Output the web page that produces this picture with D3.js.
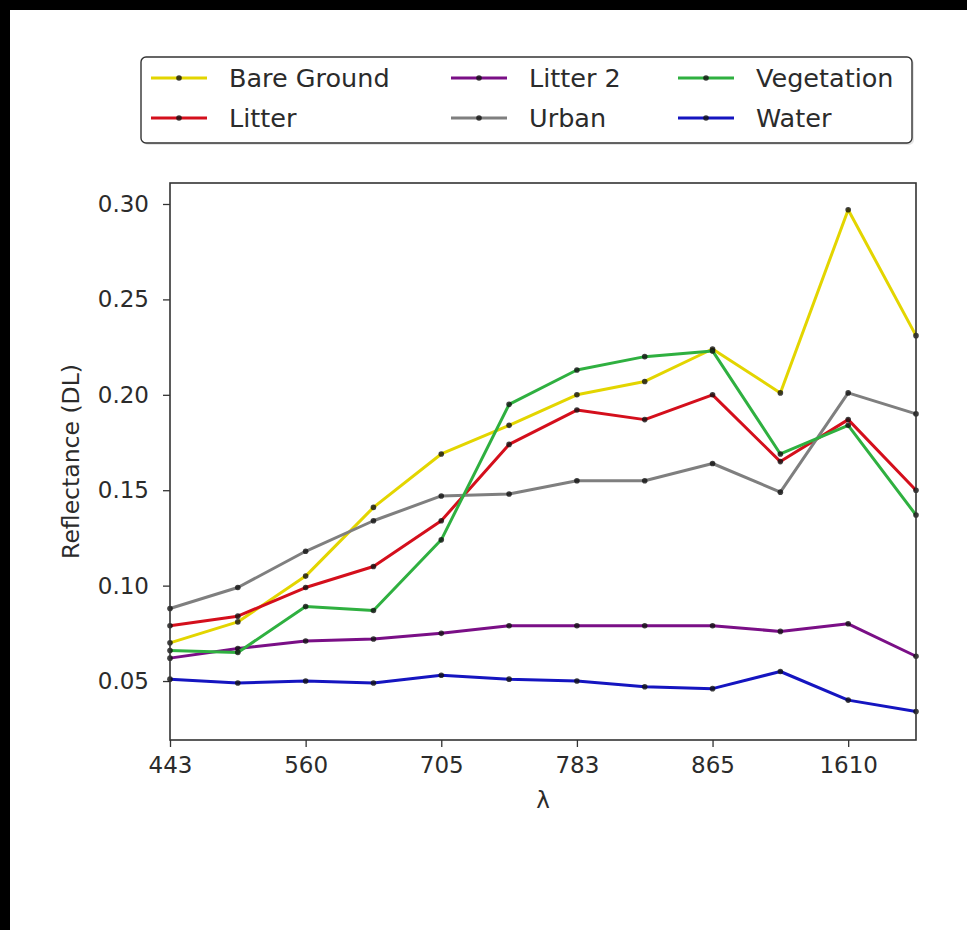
<!DOCTYPE html>
<html>
<head>
<meta charset="utf-8">
<script src="https://cdn.jsdelivr.net/npm/d3@7"></script>
<style>
  body { margin: 0; background: #000; }
  svg { display: block; }
  text { font-family: 'DejaVu Sans', sans-serif; fill: #2b2b2b; }
  .tick text { font-size: 23px; }
  .tick line { stroke: #333; stroke-width: 1.3; }
  .domain { display: none; }
</style>
</head>
<body>
<div id="chart"></div>
<script>
// band centres (nm), one entry per measured point
const bands = ['443', '490', '560', '665', '705', '740', '783', '842', '865', '945', '1610', '2190'];
const shownTicks = ['443', '560', '705', '783', '865', '1610'];
const yTicks = [0.05, 0.10, 0.15, 0.20, 0.25, 0.30];

const bareGround = [0.070, 0.081, 0.105, 0.141, 0.169, 0.184, 0.200, 0.207, 0.224, 0.201, 0.297, 0.231];
const litter     = [0.079, 0.084, 0.099, 0.110, 0.134, 0.174, 0.192, 0.187, 0.200, 0.165, 0.187, 0.150];
const litter2    = [0.062, 0.067, 0.071, 0.072, 0.075, 0.079, 0.079, 0.079, 0.079, 0.076, 0.080, 0.063];
const urban      = [0.088, 0.099, 0.118, 0.134, 0.147, 0.148, 0.155, 0.155, 0.164, 0.149, 0.201, 0.190];
const vegetation = [0.066, 0.065, 0.089, 0.087, 0.124, 0.195, 0.213, 0.220, 0.223, 0.169, 0.184, 0.137];
const water      = [0.051, 0.049, 0.050, 0.049, 0.053, 0.051, 0.050, 0.047, 0.046, 0.055, 0.040, 0.034];

const seriesNames = ['Bare Ground', 'Litter', 'Litter 2', 'Urban', 'Vegetation', 'Water'];
const seriesValues = [bareGround, litter, litter2, urban, vegetation, water];
const seriesColors = ['#e3d500', '#d40f1c', '#7a0f86', '#7f7f7f', '#2fb040', '#1515c0'];

const width = 967, height = 930;
const margin = {top: 183, right: 51, bottom: 190, left: 170};
const innerW = width - margin.left - margin.right;
const innerH = height - margin.top - margin.bottom;

const svg = d3.select('#chart').append('svg')
    .attr('width', width)
    .attr('height', height);

// white figure area inside the dark frame
svg.append('rect')
    .attr('x', 10).attr('y', 10)
    .attr('width', width - 10).attr('height', height - 10)
    .attr('fill', '#fff');

const g = svg.append('g')
    .attr('transform', `translate(${margin.left},${margin.top})`);

const x = d3.scalePoint()
    .domain(bands)
    .range([0, innerW]);

const y = d3.scaleLinear()
    .domain([0.0191, 0.311])
    .range([innerH, 0]);

// axes
g.append('g')
    .attr('transform', `translate(0,${innerH})`)
    .call(d3.axisBottom(x).tickValues(shownTicks).tickSize(7).tickPadding(10));

g.append('g')
    .call(d3.axisLeft(y).tickValues(yTicks).tickFormat(d3.format('.2f')).tickSize(7).tickPadding(14));

// lines
const line = d3.line()
    .x((d, i) => x(bands[i]))
    .y(d => y(d));

const series = seriesNames.map((name, k) => ({name, values: seriesValues[k], color: seriesColors[k]}));

const seriesGroup = g.selectAll('.series')
    .data(series)
  .join('g')
    .attr('class', 'series');

seriesGroup.append('path')
    .attr('fill', 'none')
    .attr('stroke', d => d.color)
    .attr('stroke-width', 3)
    .attr('stroke-linejoin', 'round')
    .attr('d', d => line(d.values));

seriesGroup.selectAll('circle')
    .data(d => d.values.map(v => ({v, color: d.color})))
  .join('circle')
    .attr('cx', (d, i) => x(bands[i]))
    .attr('cy', d => y(d.v))
    .attr('r', 2.8)
    .attr('fill', '#111')
    .attr('fill-opacity', 0.8);

// frame
g.append('rect')
    .attr('width', innerW)
    .attr('height', innerH)
    .attr('fill', 'none')
    .attr('stroke', '#333')
    .attr('stroke-width', 1.6);

// axis titles
svg.append('text')
    .attr('x', margin.left + innerW / 2)
    .attr('y', 808)
    .attr('text-anchor', 'middle')
    .style('font-size', '23px')
    .text('λ');

svg.append('text')
    .attr('transform', `translate(79,${margin.top + innerH / 2}) rotate(-90)`)
    .attr('text-anchor', 'middle')
    .style('font-size', '23.5px')
    .text('Reflectance (DL)');

// legend (column-major like matplotlib, 3 columns)
const legend = svg.append('g');

legend.append('rect')
    .attr('x', 143).attr('y', 59)
    .attr('width', 771).attr('height', 86)
    .attr('rx', 5)
    .attr('fill', '#ccc')
    .attr('opacity', 0.5);

legend.append('rect')
    .attr('x', 141).attr('y', 57)
    .attr('width', 771).attr('height', 86)
    .attr('rx', 5)
    .attr('fill', '#fff')
    .attr('stroke', '#333')
    .attr('stroke-width', 1.4);

const colX = [151, 451, 678];
const rowY = [78, 118];
const handleLen = 56;

const legendItem = legend.selectAll('.legend-item')
    .data(series)
  .join('g')
    .attr('class', 'legend-item')
    .attr('transform', (d, i) => `translate(${colX[Math.floor(i / 2)]},${rowY[i % 2]})`);

legendItem.append('line')
    .attr('x1', 0).attr('x2', handleLen)
    .attr('stroke', d => d.color)
    .attr('stroke-width', 3);

legendItem.append('circle')
    .attr('cx', handleLen / 2)
    .attr('r', 2.8)
    .attr('fill', '#111')
    .attr('fill-opacity', 0.8);

legendItem.append('text')
    .attr('x', handleLen + 22)
    .attr('dy', '0.36em')
    .style('font-size', '25.5px')
    .text(d => d.name);
</script>
</body>
</html>
